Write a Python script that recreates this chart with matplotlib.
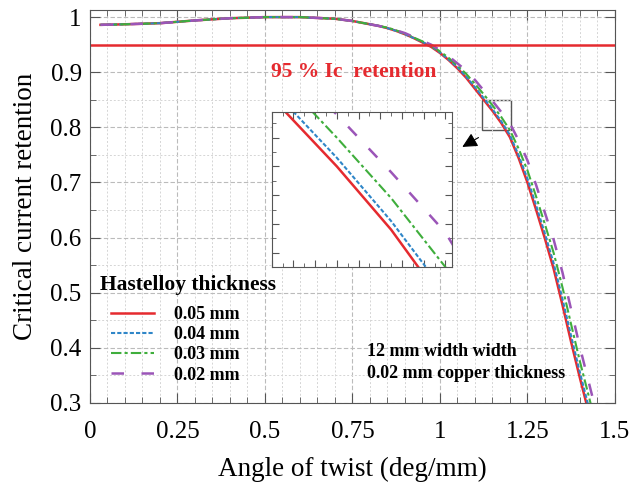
import numpy as np
import matplotlib.pyplot as plt
from matplotlib.patches import Rectangle
from matplotlib.ticker import MultipleLocator

plt.rcParams["font.family"] = ["Liberation Serif", "DejaVu Serif"]

### DATA ###
twist = [0.03, 0.1, 0.2, 0.3, 0.4, 0.5, 0.6, 0.7, 0.75, 0.8, 0.825,
         0.85, 0.875, 0.9, 0.925, 0.95, 0.975, 1.0, 1.025, 1.05, 1.075,
         1.1, 1.125, 1.15, 1.175, 1.2, 1.225, 1.25, 1.275, 1.3, 1.325,
         1.35, 1.375, 1.4, 1.425, 1.45]
start = [0.986, 0.987, 0.989, 0.994, 0.998, 1.000, 1.000, 0.997, 0.993, 0.987, 0.984]

ret_005 = start + [0.980, 0.975, 0.969, 0.962, 0.954, 0.946, 0.935, 0.922, 0.907, 0.890,
                   0.870, 0.850, 0.830, 0.808, 0.782, 0.744, 0.700, 0.650, 0.598, 0.543,
                   0.478, 0.410, 0.345, 0.283, 0.220]
ret_004 = start + [0.980, 0.975, 0.969, 0.962, 0.955, 0.947, 0.936, 0.923, 0.909, 0.892,
                   0.873, 0.853, 0.833, 0.811, 0.786, 0.749, 0.707, 0.658, 0.607, 0.553,
                   0.489, 0.421, 0.355, 0.293, 0.230]
ret_003 = start + [0.981, 0.976, 0.970, 0.963, 0.956, 0.948, 0.938, 0.926, 0.912, 0.897,
                   0.879, 0.860, 0.840, 0.819, 0.795, 0.761, 0.722, 0.674, 0.624, 0.572,
                   0.510, 0.442, 0.375, 0.313, 0.250]
ret_002 = start + [0.981, 0.976, 0.971, 0.964, 0.957, 0.950, 0.940, 0.929, 0.916, 0.903,
                   0.886, 0.867, 0.848, 0.828, 0.807, 0.776, 0.740, 0.695, 0.645, 0.596,
                   0.537, 0.469, 0.401, 0.338, 0.275]

series = [
    ("0.05 mm", ret_005, "#e52a2f", "-", 1.8),
    ("0.04 mm", ret_004, "#2f86c8", (0, (2, 1)), 1.5),
    ("0.03 mm", ret_003, "#3fae3c", (0, (5, 1.5, 1.5, 1.5)), 1.5),
    ("0.02 mm", ret_002, "#9b55b8", (0, (5, 7)), 1.8),
]

# zoom window (main chart box / inset)
box_x = (1.12, 1.203)
box_y = (0.795, 0.849)

### FIGURE ###
fig = plt.figure(figsize=(6.32, 4.82), dpi=100)
ax = fig.add_axes([0.1424, 0.164, 0.8306, 0.815])

for label, vals, color, ls, lw in series:
    ax.plot(twist, vals, color=color, linestyle=ls, linewidth=lw, label=label)

ax.axhline(0.95, color="#e52a2f", linewidth=1.8)
ax.text(0.754, 0.9, "95 % Ic  retention", color="#e52a2f", fontsize=15.5,
        fontweight="bold", ha="center", va="center")

ax.set_xlim(0, 1.5)
ax.set_ylim(0.3, 1.0127)
ax.xaxis.set_minor_locator(MultipleLocator(0.05))
ax.yaxis.set_minor_locator(MultipleLocator(0.05))
ax.set_xticks([0, 0.25, 0.5, 0.75, 1.0, 1.25, 1.5])
ax.set_xticklabels(["0", "0.25", "0.5", "0.75", "1", "1.25", "1.5"])
ax.set_yticks([0.3, 0.4, 0.5, 0.6, 0.7, 0.8, 0.9, 1.0])
ax.set_yticklabels(["0.3", "0.4", "0.5", "0.6", "0.7", "0.8", "0.9", "1"])
ax.tick_params(which="both", direction="in", top=True, right=True,
               labelsize=18, color="#555555")
ax.tick_params(which="major", length=7)
ax.tick_params(which="minor", length=4)
ax.tick_params(axis="x", which="major", pad=13)
ax.tick_params(axis="y", which="major", pad=6)
ax.grid(True, which="major", linestyle=(0, (4, 2)), color="#bbbbbb", linewidth=0.8)
ax.grid(True, which="minor", linestyle=(0, (2, 2)), color="#d5d5d5", linewidth=0.7)
for s in ax.spines.values():
    s.set_color("#555555")

ax.set_xlabel("Angle of twist (deg/mm)", fontsize=19.5, labelpad=10)
ax.set_ylabel("Critical current retention", fontsize=19.5, labelpad=9)

ax.text(0.019, 0.301, "Hastelloy thickness", transform=ax.transAxes,
        fontsize=15.5, fontweight="bold", ha="left", va="center")
ax.legend(loc="upper left", bbox_to_anchor=(0.04, 0.247), frameon=False,
          prop={"weight": "bold", "size": 13}, borderpad=0, borderaxespad=0,
          handlelength=2.4, handletextpad=1.1, labelspacing=0.18)

ax.text(0.528, 0.103, "12 mm width width\n0.02 mm copper thickness",
        transform=ax.transAxes, fontsize=13, fontweight="bold",
        ha="left", va="center", linespacing=1.4)

ax.add_patch(Rectangle((box_x[0], box_y[0]), box_x[1] - box_x[0], box_y[1] - box_y[0],
                       fill=False, edgecolor="#555555", linewidth=1))
ax.annotate("", xy=(1.057, 0.762), xytext=(1.117, 0.784),
            arrowprops=dict(arrowstyle="-|>,head_length=0.9,head_width=0.45",
                            color="black", linewidth=0.8))

### INSET ###
ins = fig.add_axes([0.430, 0.446, 0.285, 0.322])
for label, vals, color, ls, lw in series:
    ins.plot(twist, vals, color=color, linestyle=ls, linewidth=lw)
ins.set_xlim(*box_x)
ins.set_ylim(*box_y)
ins.xaxis.set_major_locator(MultipleLocator(0.01))
ins.xaxis.set_minor_locator(MultipleLocator(0.005))
ins.yaxis.set_major_locator(MultipleLocator(0.01))
ins.yaxis.set_minor_locator(MultipleLocator(0.005))
ins.tick_params(which="both", direction="in", top=True, right=True,
                labelbottom=False, labelleft=False, color="#555555")
ins.tick_params(which="major", length=5)
ins.tick_params(which="minor", length=3)
for s in ins.spines.values():
    s.set_color("#555555")

plt.savefig("out.png", dpi=100)
